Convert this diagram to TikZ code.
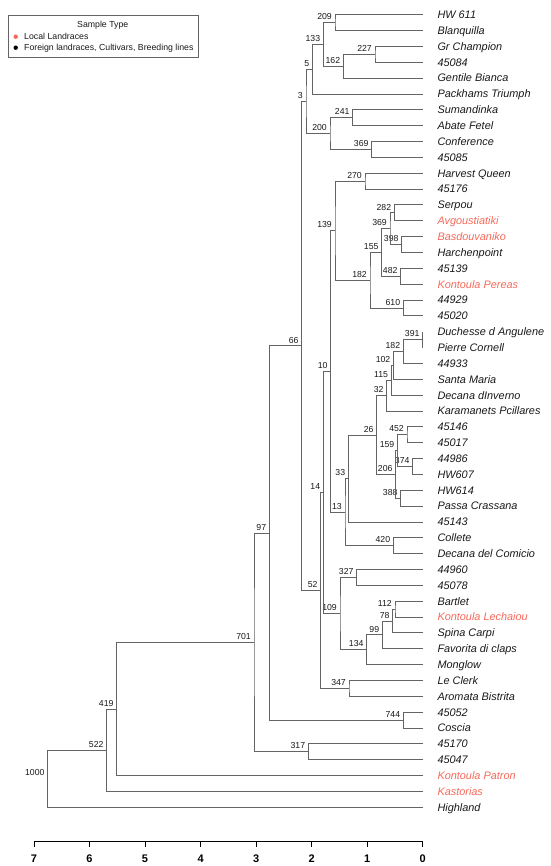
\documentclass[tikz,border=0pt]{standalone}
\usepackage{fontspec}
\setmainfont{Liberation Sans}
\usetikzlibrary{calc}
\definecolor{loc}{RGB}{245,105,90}
\definecolor{brc}{RGB}{100,100,100}
\definecolor{txt}{RGB}{25,25,25}
\newcommand\leaf[3]{%
  \coordinate (l#1) at (422.7,{14.7+(#1-1)*15.85});
  \node[lf,#3] (t#1) at (437.3,{18.6+(#1-1)*15.85}) {#2};
}
\newcommand\dnode[5]{%
  \path ($(#3)!0.5!(#4)$) coordinate (tmp#1);
  \coordinate (#1) at (#2,0 |- tmp#1);
  \draw[brl] (#3) -| (#1) |- (#4);
  \node[bs] (b#1) at (#1) {#5};
}
\begin{document}
\begin{tikzpicture}[x=1pt,y=-1pt,
  brl/.style={draw=brc,line width=0.8pt},
  lf/.style={anchor=base west,inner sep=0pt,text=txt,font=\fontsize{10.9}{12}\selectfont\itshape},
  lcl/.style={text=loc},
  bs/.style={anchor=base east,inner sep=0pt,text=txt,font=\fontsize{8.7}{10}\selectfont,xshift=-3pt,yshift=2.8pt},
  lg/.style={inner sep=0pt,text=txt,font=\fontsize{8.75}{10}\selectfont},
  axl/.style={anchor=base,inner sep=0pt,font=\fontsize{11}{12}\selectfont\bfseries}]
\useasboundingbox (0,0) rectangle (550,866);
% legend
\draw[draw=brc,line width=0.6pt] (8.3,15) rectangle (198.3,57.3);
\node[lg,anchor=base] (lgt) at (102.7,27.1) {Sample Type};
\fill[loc] (15.7,36.7) circle (2.2);
\node[lg,anchor=base west] (lg1) at (24,39.8) {Local Landraces};
\fill[black] (15.7,47.7) circle (2.2);
\node[lg,anchor=base west] (lg2) at (24,50.8) {Foreign landraces, Cultivars, Breeding lines};
% leaves
\leaf{1}{HW 611}{}
\leaf{2}{Blanquilla}{}
\leaf{3}{Gr Champion}{}
\leaf{4}{45084}{}
\leaf{5}{Gentile Bianca}{}
\leaf{6}{Packhams Triumph}{}
\leaf{7}{Sumandinka}{}
\leaf{8}{Abate Fetel}{}
\leaf{9}{Conference}{}
\leaf{10}{45085}{}
\leaf{11}{Harvest Queen}{}
\leaf{12}{45176}{}
\leaf{13}{Serpou}{}
\leaf{14}{Avgoustiatiki}{lcl}
\leaf{15}{Basdouvaniko}{lcl}
\leaf{16}{Harchenpoint}{}
\leaf{17}{45139}{}
\leaf{18}{Kontoula Pereas}{lcl}
\leaf{19}{44929}{}
\leaf{20}{45020}{}
\leaf{21}{Duchesse d Angulene}{}
\leaf{22}{Pierre Cornell}{}
\leaf{23}{44933}{}
\leaf{24}{Santa Maria}{}
\leaf{25}{Decana dInverno}{}
\leaf{26}{Karamanets Pcillares}{}
\leaf{27}{45146}{}
\leaf{28}{45017}{}
\leaf{29}{44986}{}
\leaf{30}{HW607}{}
\leaf{31}{HW614}{}
\leaf{32}{Passa Crassana}{}
\leaf{33}{45143}{}
\leaf{34}{Collete}{}
\leaf{35}{Decana del Comicio}{}
\leaf{36}{44960}{}
\leaf{37}{45078}{}
\leaf{38}{Bartlet}{}
\leaf{39}{Kontoula Lechaiou}{lcl}
\leaf{40}{Spina Carpi}{}
\leaf{41}{Favorita di claps}{}
\leaf{42}{Monglow}{}
\leaf{43}{Le Clerk}{}
\leaf{44}{Aromata Bistrita}{}
\leaf{45}{45052}{}
\leaf{46}{Coscia}{}
\leaf{47}{45170}{}
\leaf{48}{45047}{}
\leaf{49}{Kontoula Patron}{lcl}
\leaf{50}{Kastorias}{lcl}
\leaf{51}{Highland}{}
% internal nodes
\dnode{n209}{335}{l1}{l2}{209}
\dnode{n227}{375}{l3}{l4}{227}
\dnode{n162}{343.3}{n227}{l5}{162}
\dnode{n133}{323.3}{n209}{n162}{133}
\dnode{n5}{312.5}{n133}{l6}{5}
\dnode{n241}{352.7}{l7}{l8}{241}
\dnode{n369a}{371.7}{l9}{l10}{369}
\dnode{n200}{330}{n241}{n369a}{200}
\dnode{n3}{306}{n5}{n200}{3}
\dnode{n270}{365}{l11}{l12}{270}
\dnode{n282}{394.3}{l13}{l14}{282}
\dnode{n398}{401.7}{l15}{l16}{398}
\dnode{n369b}{390}{n282}{n398}{369}
\dnode{n482}{400.7}{l17}{l18}{482}
\dnode{n155}{381.7}{n369b}{n482}{155}
\dnode{n610}{403.3}{l19}{l20}{610}
\dnode{n182}{370}{n155}{n610}{182}
\dnode{n139}{335}{n270}{n182}{139}
\dnode{n391}{422.7}{l21}{l22}{391}
\dnode{n182b}{403.3}{n391}{l23}{182}
\dnode{n102}{393.5}{n182b}{l24}{102}
\dnode{n115}{391.2}{n102}{l25}{115}
\dnode{n32}{386.7}{n115}{l26}{32}
\dnode{n452}{407}{l27}{l28}{452}
\dnode{n374}{412.7}{l29}{l30}{374}
\dnode{n159}{397.5}{n452}{n374}{159}
\dnode{n388}{400.7}{l31}{l32}{388}
\dnode{n206}{395.7}{n159}{n388}{206}
\dnode{n26}{376.7}{n32}{n206}{26}
\dnode{n33}{348.3}{n26}{l33}{33}
\dnode{n420}{393.3}{l34}{l35}{420}
\dnode{n13}{345}{n33}{n420}{13}
\dnode{n10}{330.7}{n139}{n13}{10}
\dnode{n327}{356.7}{l36}{l37}{327}
\dnode{n112}{395}{l38}{l39}{112}
\dnode{n78}{392.7}{n112}{l40}{78}
\dnode{n99}{382.3}{n78}{l41}{99}
\dnode{n134}{366.7}{n99}{l42}{134}
\dnode{n109}{340}{n327}{n134}{109}
\dnode{n14}{323.3}{n10}{n109}{14}
\dnode{n347}{349}{l43}{l44}{347}
\dnode{n52}{320.7}{n14}{n347}{52}
\dnode{n66}{301.7}{n3}{n52}{66}
\dnode{n744}{403.3}{l45}{l46}{744}
\dnode{n97}{269.3}{n66}{n744}{97}
\dnode{n317}{308.3}{l47}{l48}{317}
\dnode{n701}{254}{n97}{n317}{701}
\dnode{n419}{116.7}{n701}{l49}{419}
\dnode{n522}{106.7}{n419}{l50}{522}
\dnode{n1000}{47.7}{n522}{l51}{1000}
% axis
\draw[line width=0.8pt] (34,841) -- (422.7,841);
\foreach \d in {0,...,7}{
  \draw[line width=0.8pt] ({422.7-55.53*\d},841) -- ++(0,5.5);
  \node[axl] (ax\d) at ({422.7-55.53*\d},862) {\d};
}
\end{tikzpicture}
\end{document}
